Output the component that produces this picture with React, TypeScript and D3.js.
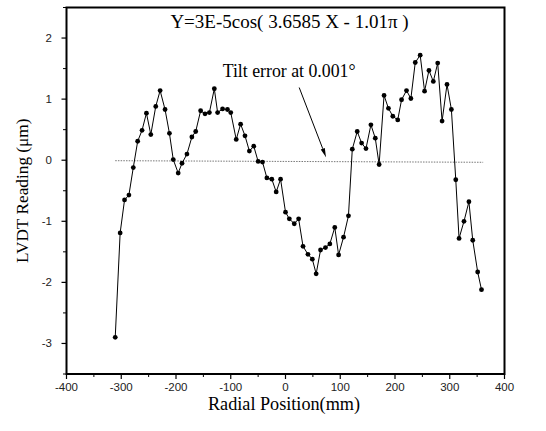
import React from "react";
import * as d3 from "d3";

const xValues = [-311, -302, -294, -286, -278, -270, -262, -254, -246, -237, -229, -220, -212, -205, -196, -189, -180, -171, -164, -155, -147, -139, -130, -124, -115, -106, -100, -90, -82, -74, -66, -58, -50, -42, -34, -25, -17, -9, 0, 7, 16, 24, 32, 41, 49, 56, 64, 73, 81, 90, 97, 106, 115, 122, 131, 139, 147, 156, 164, 171, 180, 188, 196, 205, 212, 221, 229, 237, 246, 254, 262, 270, 278, 286, 295, 303, 311, 317, 326, 335, 342, 351, 358];
const yValues = [-2.9, -1.19, -0.65, -0.57, -0.12, 0.31, 0.49, 0.77, 0.42, 0.88, 1.14, 0.83, 0.44, 0.01, -0.21, -0.05, 0.1, 0.38, 0.47, 0.81, 0.76, 0.78, 1.17, 0.78, 0.84, 0.83, 0.78, 0.34, 0.59, 0.4, 0.15, 0.23, -0.02, -0.03, -0.29, -0.31, -0.52, -0.31, -0.85, -0.96, -1.04, -0.96, -1.41, -1.54, -1.62, -1.86, -1.47, -1.43, -1.37, -1.1, -1.55, -1.26, -0.91, 0.18, 0.47, 0.28, 0.19, 0.58, 0.36, -0.07, 1.06, 0.85, 0.72, 0.66, 0.99, 1.14, 1.01, 1.6, 1.72, 1.13, 1.47, 1.29, 1.59, 0.64, 1.24, 0.83, -0.32, -1.28, -1.0, -0.68, -1.31, -1.83, -2.12];

const tiltX = [-311, 361];
const tiltY = [-0.008, -0.034];
const arrowX = [25, 74];
const arrowY = [1.19, 0.05];

const xTicks = [-400, -300, -200, -100, 0, 100, 200, 300, 400];
const xMinorTicks = [-350, -250, -150, -50, 50, 150, 250, 350];
const yTicks = [-3, -2, -1, 0, 1, 2];
const yMinorTicks = [-3.5, -2.5, -1.5, -0.5, 0.5, 1.5, 2.5];

const titleText = "Y=3E-5cos( 3.6585 X - 1.01\u03C0 )";
const annotText = "Tilt error at 0.001\u00B0";
const xLabel = "Radial Position(mm)";
const yLabel = "LVDT Reading (\u03BCm)";

export default function App() {
  const left = 66.5, right = 504.5, top = 7.5, bottom = 374;
  const x = d3.scaleLinear().domain([-400, 400]).range([left, right]);
  const y = d3.scaleLinear().domain([-3.5, 2.5]).range([bottom, top]);
  const pts = xValues.map((v, i) => [v, yValues[i]] as [number, number]);
  const line = d3.line<[number, number]>().x((d) => x(d[0])).y((d) => y(d[1]));
  const serif = "'Liberation Serif', 'Times New Roman', serif";
  const sans = "'Liberation Sans', Arial, sans-serif";

  const ax0 = x(arrowX[0]), ay0 = y(arrowY[0]), ax1 = x(arrowX[1]), ay1 = y(arrowY[1]);
  const ang = Math.atan2(ay1 - ay0, ax1 - ax0);
  const hl = 9, hw = 2.2;
  const bx = ax1 - hl * Math.cos(ang), by = ay1 - hl * Math.sin(ang);
  const head = `M${ax1},${ay1} L${bx + hw * Math.sin(ang)},${by - hw * Math.cos(ang)} L${bx - hw * Math.sin(ang)},${by + hw * Math.cos(ang)} Z`;

  return (
    <svg width={546} height={431} style={{ position: "absolute", left: 0, top: 0, background: "#fff" }}>
      <rect x={0} y={0} width={546} height={431} fill="#fff" />
      {/* tilt line */}
      <path
        d={line(tiltX.map((v, i) => [v, tiltY[i]] as [number, number])) || ""}
        stroke="#777"
        strokeWidth={1}
        strokeDasharray="1.5,1.2"
        fill="none"
      />
      {/* data line */}
      <path d={line(pts) || ""} stroke="#000" strokeWidth={1} fill="none" />
      {pts.map((d, i) => (
        <circle key={i} cx={x(d[0])} cy={y(d[1])} r={2.4} fill="#000" />
      ))}
      {/* arrow */}
      <line x1={ax0} y1={ay0} x2={bx} y2={by} stroke="#000" strokeWidth={1} />
      <path d={head} fill="#000" />
      {/* frame */}
      <rect x={left} y={top} width={right - left} height={bottom - top} fill="none" stroke="#000" strokeWidth={2} />
      {/* x ticks */}
      {xTicks.map((t) => (
        <g key={"xt" + t}>
          <line x1={x(t)} x2={x(t)} y1={bottom} y2={bottom + 5} stroke="#000" strokeWidth={1.2} />
          <text x={x(t)} y={391} textAnchor="middle" fontFamily={sans} fontSize={11.5} fill="#222">
            {t}
          </text>
        </g>
      ))}
      {xMinorTicks.map((t) => (
        <line key={"xm" + t} x1={x(t)} x2={x(t)} y1={bottom} y2={bottom + 3} stroke="#000" strokeWidth={1} />
      ))}
      {/* y ticks */}
      {yTicks.map((t) => (
        <g key={"yt" + t}>
          <line x1={left - 5} x2={left} y1={y(t)} y2={y(t)} stroke="#000" strokeWidth={1.2} />
          <text x={52} y={y(t) + 4} textAnchor="end" fontFamily={sans} fontSize={11.5} fill="#222">
            {t}
          </text>
        </g>
      ))}
      {yMinorTicks.map((t) => (
        <line key={"ym" + t} x1={left - 3.5} x2={left} y1={y(t)} y2={y(t)} stroke="#000" strokeWidth={1} />
      ))}
      {/* texts */}
      <text x={289.5} y={28} textAnchor="middle" fontFamily={serif} fontSize={19} fill="#000">
        {titleText}
      </text>
      <text x={222.7} y={76.7} fontFamily={serif} fontSize={17.8} fill="#000">
        {annotText}
      </text>
      <text x={284} y={410} textAnchor="middle" fontFamily={serif} fontSize={18.2} fill="#000">
        {xLabel}
      </text>
      <text
        transform={`translate(28,${(top + bottom) / 2}) rotate(-90)`}
        textAnchor="middle"
        fontFamily={serif}
        fontSize={17.3}
        fill="#000"
      >
        {yLabel}
      </text>
    </svg>
  );
}
